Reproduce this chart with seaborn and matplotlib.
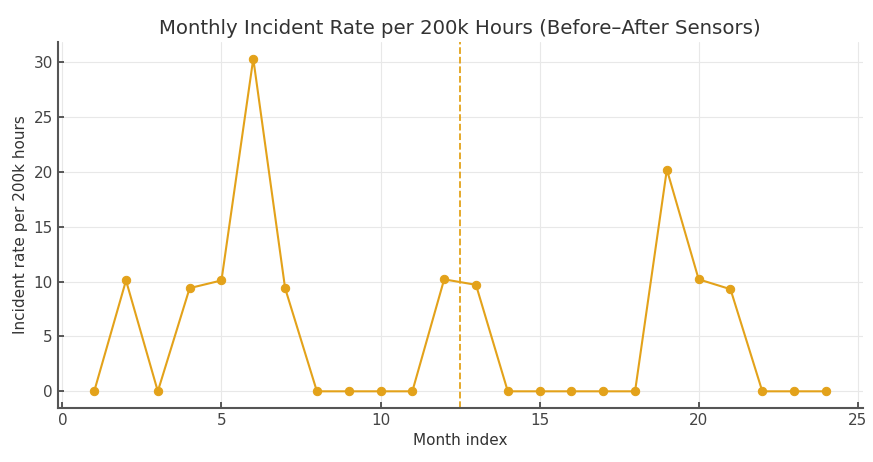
import matplotlib
matplotlib.use("Agg")
import matplotlib.pyplot as plt
import seaborn as sns
import pandas as pd

months = list(range(1, 25))
rates = [0, 10.1, 0, 9.4, 10.1, 30.3, 9.4, 0, 0, 0, 0, 10.2,
         9.7, 0, 0, 0, 0, 0, 20.2, 10.2, 9.3, 0, 0, 0]
cutover = 12.5

sns.set_theme(style="whitegrid")
plt.rcParams['font.family'] = ['DejaVu Sans']

df = pd.DataFrame({"month": months, "rate": rates})
color = "#E3A21A"

fig = plt.figure(figsize=(8.73, 4.62), dpi=100)
ax = fig.add_axes([0.066, 0.117, 0.922, 0.792])
sns.lineplot(data=df, x="month", y="rate", ax=ax, color=color, marker="o",
             markersize=6, linewidth=1.5, markeredgecolor=color)
ax.axvline(cutover, color=color, linestyle="--", linewidth=1.3)

ax.set_title("Monthly Incident Rate per 200k Hours (Before–After Sensors)",
             fontsize=14.2, color="#333333")
ax.set_xlabel("Month index", fontsize=11, color="#333333")
ax.set_ylabel("Incident rate per 200k hours", fontsize=11, color="#333333")
ax.set_xticks([0, 5, 10, 15, 20, 25])
ax.set_yticks([0, 5, 10, 15, 20, 25, 30])
ax.tick_params(axis="both", labelsize=11, colors="#444444", direction="in",
               length=4, left=True, bottom=True)
ax.grid(True, color="#e8e8e8", linewidth=0.8)
for s in ["top", "right"]:
    ax.spines[s].set_visible(False)
for s in ["left", "bottom"]:
    ax.spines[s].set_visible(True)
    ax.spines[s].set_color("#555555")
    ax.spines[s].set_linewidth(1.5)

fig.savefig("out.png", dpi=100)
